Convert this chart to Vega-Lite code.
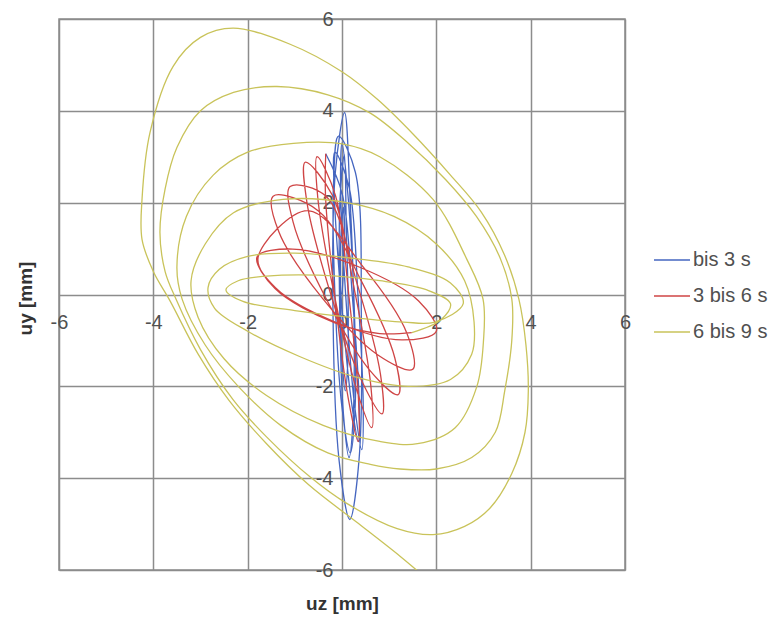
{
"$schema": "https://vega.github.io/schema/vega-lite/v6.json",
"width": 566, "height": 551,
"autosize": "none",
"padding": {"left": 59, "top": 19, "right": 148, "bottom": 47},
"background": "white",
"config": {"view": {"stroke": "#8c8c8c", "strokeWidth": 1.5}, "font": "Liberation Sans"},
"data": {"values": [
{"s":"bis 3 s","i":0,"x":0,"y":0},{"s":"bis 3 s","i":1,"x":0.05,"y":1.0},
{"s":"bis 3 s","i":2,"x":0.03,"y":1.9},{"s":"bis 3 s","i":3,"x":-0.021,"y":1.314},{"s":"bis 3 s","i":4,"x":-0.03,"y":-0.1},{"s":"bis 3 s","i":5,"x":0.007,"y":-1.514},{"s":"bis 3 s","i":6,"x":0.07,"y":-2.1},{"s":"bis 3 s","i":7,"x":0.121,"y":-1.514},{"s":"bis 3 s","i":8,"x":0.13,"y":-0.1},{"s":"bis 3 s","i":9,"x":0.093,"y":1.314},
{"s":"bis 3 s","i":10,"x":0.05,"y":3.05},{"s":"bis 3 s","i":11,"x":-0.041,"y":2.083},{"s":"bis 3 s","i":12,"x":-0.05,"y":-0.25},{"s":"bis 3 s","i":13,"x":0.029,"y":-2.583},{"s":"bis 3 s","i":14,"x":0.15,"y":-3.55},{"s":"bis 3 s","i":15,"x":0.241,"y":-2.583},{"s":"bis 3 s","i":16,"x":0.25,"y":-0.25},{"s":"bis 3 s","i":17,"x":0.171,"y":2.083},
{"s":"bis 3 s","i":18,"x":0.055,"y":3.96},{"s":"bis 3 s","i":19,"x":-0.141,"y":2.662},{"s":"bis 3 s","i":20,"x":-0.19,"y":-0.47},{"s":"bis 3 s","i":21,"x":-0.063,"y":-3.602},{"s":"bis 3 s","i":22,"x":0.165,"y":-4.9},{"s":"bis 3 s","i":23,"x":0.361,"y":-3.602},{"s":"bis 3 s","i":24,"x":0.41,"y":-0.47},{"s":"bis 3 s","i":25,"x":0.283,"y":2.662},
{"s":"bis 3 s","i":26,"x":-0.075,"y":3.45},{"s":"bis 3 s","i":27,"x":-0.179,"y":2.439},{"s":"bis 3 s","i":28,"x":-0.15,"y":0},{"s":"bis 3 s","i":29,"x":-0.003,"y":-2.439},{"s":"bis 3 s","i":30,"x":0.175,"y":-3.45},{"s":"bis 3 s","i":31,"x":0.279,"y":-2.439},{"s":"bis 3 s","i":32,"x":0.25,"y":0},{"s":"bis 3 s","i":33,"x":0.103,"y":2.439},
{"s":"bis 3 s","i":34,"x":0.0,"y":3.3},{"s":"bis 3 s","i":35,"x":-0.03,"y":2.322},{"s":"bis 3 s","i":36,"x":0.08,"y":-0.04},{"s":"bis 3 s","i":37,"x":0.266,"y":-2.402},{"s":"bis 3 s","i":38,"x":0.42,"y":-3.38},{"s":"bis 3 s","i":39,"x":0.45,"y":-2.402},{"s":"bis 3 s","i":40,"x":0.34,"y":-0.04},{"s":"bis 3 s","i":41,"x":0.154,"y":2.322},
{"s":"bis 3 s","i":42,"x":-0.15,"y":3.1},{"s":"bis 3 s","i":43,"x":-0.162,"y":2.177},{"s":"bis 3 s","i":44,"x":-0.02,"y":-0.05},{"s":"bis 3 s","i":45,"x":0.192,"y":-2.277},{"s":"bis 3 s","i":46,"x":0.35,"y":-3.2},{"s":"bis 3 s","i":47,"x":0.362,"y":-2.277},{"s":"bis 3 s","i":48,"x":0.22,"y":-0.05},{"s":"bis 3 s","i":49,"x":0.008,"y":2.177},
{"s":"bis 3 s","i":50,"x":-0.345,"y":3.065},
{"s":"3 bis 6 s","i":0,"x":-0.345,"y":3.065},{"s":"3 bis 6 s","i":1,"x":-0.349,"y":2.136},{"s":"3 bis 6 s","i":2,"x":-0.149,"y":-0.086},{"s":"3 bis 6 s","i":3,"x":0.139,"y":-2.298},{"s":"3 bis 6 s","i":4,"x":0.345,"y":-3.205},{"s":"3 bis 6 s","i":5,"x":0.349,"y":-2.276},{"s":"3 bis 6 s","i":6,"x":0.149,"y":-0.054},{"s":"3 bis 6 s","i":7,"x":-0.139,"y":2.158},
{"s":"3 bis 6 s","i":8,"x":-0.53,"y":3.0},{"s":"3 bis 6 s","i":9,"x":-0.513,"y":2.106},{"s":"3 bis 6 s","i":10,"x":-0.166,"y":0.008},{"s":"3 bis 6 s","i":11,"x":0.307,"y":-2.066},{"s":"3 bis 6 s","i":12,"x":0.63,"y":-2.9},{"s":"3 bis 6 s","i":13,"x":0.613,"y":-2.006},{"s":"3 bis 6 s","i":14,"x":0.266,"y":0.092},{"s":"3 bis 6 s","i":15,"x":-0.207,"y":2.166},
{"s":"3 bis 6 s","i":16,"x":-0.78,"y":2.88},{"s":"3 bis 6 s","i":17,"x":-0.745,"y":2.016},{"s":"3 bis 6 s","i":18,"x":-0.253,"y":0.054},{"s":"3 bis 6 s","i":19,"x":0.407,"y":-1.858},{"s":"3 bis 6 s","i":20,"x":0.85,"y":-2.6},{"s":"3 bis 6 s","i":21,"x":0.815,"y":-1.736},{"s":"3 bis 6 s","i":22,"x":0.323,"y":0.226},{"s":"3 bis 6 s","i":23,"x":-0.337,"y":2.138},
{"s":"3 bis 6 s","i":24,"x":-1.1,"y":2.35},{"s":"3 bis 6 s","i":25,"x":-1.03,"y":1.553},{"s":"3 bis 6 s","i":26,"x":-0.33,"y":-0.104},{"s":"3 bis 6 s","i":27,"x":0.59,"y":-1.651},{"s":"3 bis 6 s","i":28,"x":1.19,"y":-2.18},{"s":"3 bis 6 s","i":29,"x":1.12,"y":-1.383},{"s":"3 bis 6 s","i":30,"x":0.42,"y":0.274},{"s":"3 bis 6 s","i":31,"x":-0.5,"y":1.821},
{"s":"3 bis 6 s","i":32,"x":-1.46,"y":2.14},{"s":"3 bis 6 s","i":33,"x":-1.333,"y":1.348},{"s":"3 bis 6 s","i":34,"x":-0.413,"y":-0.085},{"s":"3 bis 6 s","i":35,"x":0.761,"y":-1.318},{"s":"3 bis 6 s","i":36,"x":1.5,"y":-1.63},{"s":"3 bis 6 s","i":37,"x":1.373,"y":-0.838},{"s":"3 bis 6 s","i":38,"x":0.453,"y":0.595},{"s":"3 bis 6 s","i":39,"x":-0.721,"y":1.828},
{"s":"3 bis 6 s","i":40,"x":-1.78,"y":0.8},{"s":"3 bis 6 s","i":41,"x":-1.405,"y":0.142},{"s":"3 bis 6 s","i":42,"x":-0.143,"y":-0.599},{"s":"3 bis 6 s","i":43,"x":1.267,"y":-0.99},{"s":"3 bis 6 s","i":44,"x":2.0,"y":-0.8},{"s":"3 bis 6 s","i":45,"x":1.625,"y":-0.142},{"s":"3 bis 6 s","i":46,"x":0.363,"y":0.599},{"s":"3 bis 6 s","i":47,"x":-1.047,"y":0.99},
{"s":"3 bis 6 s","i":48,"x":-1.8,"y":0.82},{"s":"3 bis 6 s","i":49,"x":-1.42,"y":0.13},{"s":"3 bis 6 s","i":50,"x":-0.15,"y":-0.62},{"s":"3 bis 6 s","i":51,"x":0.8,"y":-0.85},{"s":"3 bis 6 s","i":52,"x":1.48,"y":-0.83},
{"s":"6 bis 9 s","i":0,"x":1.48,"y":-0.83},{"s":"6 bis 9 s","i":1,"x":2.1,"y":-0.55},{"s":"6 bis 9 s","i":2,"x":2.3,"y":-0.2},{"s":"6 bis 9 s","i":3,"x":1.8,"y":0.1},{"s":"6 bis 9 s","i":4,"x":0.8,"y":0.3},{"s":"6 bis 9 s","i":5,"x":-0.5,"y":0.42},{"s":"6 bis 9 s","i":6,"x":-1.6,"y":0.4},{"s":"6 bis 9 s","i":7,"x":-2.2,"y":0.3},{"s":"6 bis 9 s","i":8,"x":-2.46,"y":0.1},{"s":"6 bis 9 s","i":9,"x":-2.1,"y":-0.15},{"s":"6 bis 9 s","i":10,"x":-1.0,"y":-0.35},{"s":"6 bis 9 s","i":11,"x":0.2,"y":-0.5},{"s":"6 bis 9 s","i":12,"x":1.3,"y":-0.6},{"s":"6 bis 9 s","i":13,"x":1.97,"y":-0.6},{"s":"6 bis 9 s","i":14,"x":2.57,"y":-0.2},{"s":"6 bis 9 s","i":15,"x":2.3,"y":0.25},{"s":"6 bis 9 s","i":16,"x":1.4,"y":0.6},{"s":"6 bis 9 s","i":17,"x":0.3,"y":0.78},{"s":"6 bis 9 s","i":18,"x":-1.0,"y":0.9},
{"s":"6 bis 9 s","i":19,"x":-2.0,"y":0.83},{"s":"6 bis 9 s","i":20,"x":-2.6,"y":0.55},{"s":"6 bis 9 s","i":21,"x":-2.84,"y":0.15},{"s":"6 bis 9 s","i":22,"x":-2.7,"y":-0.3},{"s":"6 bis 9 s","i":23,"x":-2.0,"y":-0.8},{"s":"6 bis 9 s","i":24,"x":-0.9,"y":-1.35},{"s":"6 bis 9 s","i":25,"x":0.3,"y":-1.8},{"s":"6 bis 9 s","i":26,"x":1.4,"y":-2.0},{"s":"6 bis 9 s","i":27,"x":2.3,"y":-1.85},{"s":"6 bis 9 s","i":28,"x":2.75,"y":-1.3},{"s":"6 bis 9 s","i":29,"x":2.8,"y":-0.6},{"s":"6 bis 9 s","i":30,"x":2.6,"y":0.3},{"s":"6 bis 9 s","i":31,"x":2.0,"y":1.1},{"s":"6 bis 9 s","i":32,"x":1.1,"y":1.7},{"s":"6 bis 9 s","i":33,"x":0.1,"y":2.0},{"s":"6 bis 9 s","i":34,"x":-1.25,"y":2.07},
{"s":"6 bis 9 s","i":35,"x":-2.3,"y":1.78},{"s":"6 bis 9 s","i":36,"x":-2.9,"y":1.1},{"s":"6 bis 9 s","i":37,"x":-3.2,"y":0.3},{"s":"6 bis 9 s","i":38,"x":-3.05,"y":-0.5},{"s":"6 bis 9 s","i":39,"x":-2.5,"y":-1.4},{"s":"6 bis 9 s","i":40,"x":-1.6,"y":-2.2},{"s":"6 bis 9 s","i":41,"x":-0.4,"y":-2.85},{"s":"6 bis 9 s","i":42,"x":0.8,"y":-3.2},{"s":"6 bis 9 s","i":43,"x":1.6,"y":-3.25},{"s":"6 bis 9 s","i":44,"x":2.4,"y":-2.9},{"s":"6 bis 9 s","i":45,"x":2.86,"y":-2.0},{"s":"6 bis 9 s","i":46,"x":3.0,"y":-1.0},{"s":"6 bis 9 s","i":47,"x":2.99,"y":-0.1},{"s":"6 bis 9 s","i":48,"x":2.65,"y":0.76},{"s":"6 bis 9 s","i":49,"x":1.93,"y":2.07},{"s":"6 bis 9 s","i":50,"x":0.8,"y":3.0},{"s":"6 bis 9 s","i":51,"x":0,"y":3.28},{"s":"6 bis 9 s","i":52,"x":-1.03,"y":3.29},
{"s":"6 bis 9 s","i":53,"x":-2.0,"y":3.1},{"s":"6 bis 9 s","i":54,"x":-2.73,"y":2.6},{"s":"6 bis 9 s","i":55,"x":-3.3,"y":1.7},{"s":"6 bis 9 s","i":56,"x":-3.5,"y":0.6},{"s":"6 bis 9 s","i":57,"x":-3.39,"y":-0.1},{"s":"6 bis 9 s","i":58,"x":-2.9,"y":-1.1},{"s":"6 bis 9 s","i":59,"x":-2.2,"y":-2.0},{"s":"6 bis 9 s","i":60,"x":-1.3,"y":-2.85},{"s":"6 bis 9 s","i":61,"x":-0.3,"y":-3.45},{"s":"6 bis 9 s","i":62,"x":0.6,"y":-3.7},{"s":"6 bis 9 s","i":63,"x":1.23,"y":-3.8},{"s":"6 bis 9 s","i":64,"x":2.0,"y":-3.8},{"s":"6 bis 9 s","i":65,"x":2.75,"y":-3.55},{"s":"6 bis 9 s","i":66,"x":3.25,"y":-3.0},{"s":"6 bis 9 s","i":67,"x":3.45,"y":-2.1},{"s":"6 bis 9 s","i":68,"x":3.6,"y":-1.0},{"s":"6 bis 9 s","i":69,"x":3.6,"y":-0.1},{"s":"6 bis 9 s","i":70,"x":3.35,"y":0.8},{"s":"6 bis 9 s","i":71,"x":2.85,"y":1.7},{"s":"6 bis 9 s","i":72,"x":2.2,"y":2.5},{"s":"6 bis 9 s","i":73,"x":1.4,"y":3.3},{"s":"6 bis 9 s","i":74,"x":0.6,"y":3.95},{"s":"6 bis 9 s","i":75,"x":-0.3,"y":4.35},{"s":"6 bis 9 s","i":76,"x":-1.38,"y":4.53},
{"s":"6 bis 9 s","i":77,"x":-2.3,"y":4.4},{"s":"6 bis 9 s","i":78,"x":-3.0,"y":4.0},{"s":"6 bis 9 s","i":79,"x":-3.5,"y":3.2},{"s":"6 bis 9 s","i":80,"x":-3.75,"y":2.3},{"s":"6 bis 9 s","i":81,"x":-3.86,"y":1.35},{"s":"6 bis 9 s","i":82,"x":-3.75,"y":0.5},{"s":"6 bis 9 s","i":83,"x":-3.52,"y":-0.1},{"s":"6 bis 9 s","i":84,"x":-3.0,"y":-1.2},{"s":"6 bis 9 s","i":85,"x":-2.31,"y":-2.29},{"s":"6 bis 9 s","i":86,"x":-1.6,"y":-3.1},{"s":"6 bis 9 s","i":87,"x":-0.68,"y":-3.97},{"s":"6 bis 9 s","i":88,"x":0.1,"y":-4.55},{"s":"6 bis 9 s","i":89,"x":1.17,"y":-5.1},{"s":"6 bis 9 s","i":90,"x":1.93,"y":-5.23},{"s":"6 bis 9 s","i":91,"x":2.6,"y":-5.05},{"s":"6 bis 9 s","i":92,"x":3.14,"y":-4.65},{"s":"6 bis 9 s","i":93,"x":3.6,"y":-3.9},{"s":"6 bis 9 s","i":94,"x":3.88,"y":-3.0},{"s":"6 bis 9 s","i":95,"x":3.95,"y":-2.1},{"s":"6 bis 9 s","i":96,"x":3.9,"y":-1.1},{"s":"6 bis 9 s","i":97,"x":3.75,"y":-0.1},{"s":"6 bis 9 s","i":98,"x":3.45,"y":0.85},{"s":"6 bis 9 s","i":99,"x":2.95,"y":1.8},{"s":"6 bis 9 s","i":100,"x":2.3,"y":2.6},{"s":"6 bis 9 s","i":101,"x":1.5,"y":3.5},{"s":"6 bis 9 s","i":102,"x":0.75,"y":4.25},{"s":"6 bis 9 s","i":103,"x":0,"y":4.85},{"s":"6 bis 9 s","i":104,"x":-1.1,"y":5.45},{"s":"6 bis 9 s","i":105,"x":-2.31,"y":5.8},
{"s":"6 bis 9 s","i":106,"x":-3.0,"y":5.6},{"s":"6 bis 9 s","i":107,"x":-3.58,"y":4.97},{"s":"6 bis 9 s","i":108,"x":-4.07,"y":3.53},{"s":"6 bis 9 s","i":109,"x":-4.24,"y":2.07},{"s":"6 bis 9 s","i":110,"x":-4.24,"y":1.2},{"s":"6 bis 9 s","i":111,"x":-4.0,"y":0.5},{"s":"6 bis 9 s","i":112,"x":-3.64,"y":-0.15},{"s":"6 bis 9 s","i":113,"x":-3.05,"y":-1.3},{"s":"6 bis 9 s","i":114,"x":-2.4,"y":-2.3},{"s":"6 bis 9 s","i":115,"x":-1.6,"y":-3.25},{"s":"6 bis 9 s","i":116,"x":-0.7,"y":-4.15},{"s":"6 bis 9 s","i":117,"x":0.3,"y":-4.95},{"s":"6 bis 9 s","i":118,"x":1.23,"y":-5.7},{"s":"6 bis 9 s","i":119,"x":1.75,"y":-6.15}
]},
"mark": {"type": "line", "interpolate": "catmull-rom", "strokeWidth": 1.3, "clip": true},
"encoding": {
  "x": {"field": "x", "type": "quantitative", "scale": {"domain": [-6, 6], "nice": false, "zero": false},
    "axis": {"title": "uz [mm]", "values": [-6,-4,-2,0,2,4,6], "labelExpr": "datum.value < 0 ? '-' + abs(datum.value) : '' + datum.value", "offset": -275, "domain": false, "ticks": false, "grid": true, "gridColor": "#8c8c8c", "gridWidth": 1.5, "gridOpacity": 1,
      "labelFontSize": 20, "labelColor": "#505050", "labelPadding": 17, "labelOverlap": false, "labelFlush": false, "labelBound": false,
      "titleFontSize": 19, "titleFontWeight": "bold", "titleColor": "#333333", "titleY": 308, "titleBaseline": "middle"}},
  "y": {"field": "y", "type": "quantitative", "scale": {"domain": [-6, 6], "nice": false, "zero": false},
    "axis": {"title": "uy [mm]", "values": [-6,-4,-2,0,2,4,6], "labelExpr": "datum.value < 0 ? '-' + abs(datum.value) : '' + datum.value", "offset": -283, "domain": false, "ticks": false, "grid": true, "gridColor": "#8c8c8c", "gridWidth": 1.5, "gridOpacity": 1,
      "labelFontSize": 20, "labelColor": "#505050", "labelPadding": 9, "labelOverlap": false, "labelFlush": false, "labelBound": false,
      "titleFontSize": 19, "titleFontWeight": "bold", "titleColor": "#333333", "titleX": -317, "titleY": 279, "titleAngle": -90, "titleAlign": "center", "titleBaseline": "middle"}},
  "color": {"field": "s", "type": "nominal", "scale": {"domain": ["bis 3 s", "3 bis 6 s", "6 bis 9 s"], "range": ["#4566c0", "#cf4545", "#c9c35a"]},
    "legend": {"title": null, "orient": "none", "legendX": 594, "legendY": 222, "padding": 0, "symbolType": "stroke", "symbolSize": 1300, "symbolStrokeWidth": 1.3, "labelFontSize": 20, "labelColor": "#505050", "labelOffset": 2, "rowPadding": 7}},
  "order": {"field": "i", "type": "quantitative"}
}
}
